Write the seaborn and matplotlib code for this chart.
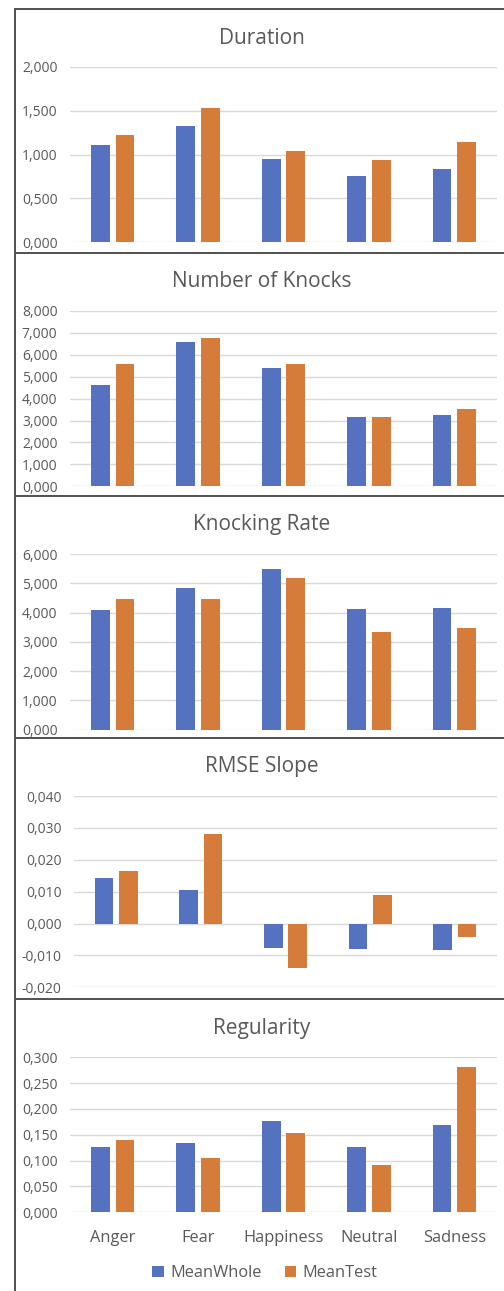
import matplotlib
matplotlib.use("Agg")
import matplotlib.pyplot as plt
from matplotlib.lines import Line2D
from matplotlib.ticker import MultipleLocator, FuncFormatter
import seaborn as sns
import pandas as pd

# ---- data ----
emotions = ["Anger", "Fear", "Happiness", "Neutral", "Sadness"]
series_names = ["MeanWhole", "MeanTest"]

duration_whole = [1.11, 1.33, 0.95, 0.76, 0.84]
duration_test = [1.22, 1.535, 1.045, 0.935, 1.14]

knocks_whole = [4.61, 6.57, 5.38, 3.18, 3.24]
knocks_test = [5.57, 6.75, 5.57, 3.18, 3.54]

rate_whole = [4.08, 4.83, 5.49, 4.13, 4.17]
rate_test = [4.45, 4.45, 5.17, 3.32, 3.46]

rmse_whole = [0.0144, 0.0105, -0.0076, -0.0081, -0.0084]
rmse_test = [0.0166, 0.0281, -0.0141, 0.0088, -0.0041]

regularity_whole = [0.126, 0.134, 0.177, 0.126, 0.169]
regularity_test = [0.139, 0.1045, 0.153, 0.0916, 0.281]

titles = ["Duration", "Number of Knocks", "Knocking Rate", "RMSE Slope", "Regularity"]

# ---- style ----
sns.set_style("white")
plt.rcParams["font.family"] = ["Open Sans", "DejaVu Sans"]

W, H = 504, 1291
fig = plt.figure(figsize=(W / 100, H / 100), dpi=100)
fig.patch.set_facecolor("white")

palette = {"MeanWhole": "#5572C1", "MeanTest": "#D67C3A"}
text_gray = "#595959"
grid_gray = "#D9D9D9"


def fx(px):
    return px / W


def fy(py):
    return 1 - py / H


# panel specs: (left, right, top, bottom in px), ylim, step, title baseline
panels = [
    (duration_whole, duration_test, (70, 497, 67, 242), (0, 2.0), 0.5, 44.3),
    (knocks_whole, knocks_test, (70, 497, 311, 486.3), (0, 8.0), 1.0, 286.7),
    (rate_whole, rate_test, (70, 497, 554, 729.7), (0, 6.0), 1.0, 530.0),
    (rmse_whole, rmse_test, (74, 497, 796, 987.3), (-0.02, 0.04), 0.01, 772.3),
    (regularity_whole, regularity_test, (70, 497, 1057.3, 1212.3), (0, 0.3), 0.05, 1034.3),
]

fmt = FuncFormatter(lambda v, p: f"{v:.3f}".replace(".", ","))

handles, labels = None, None
for i, (whole, test, (l, r, t, b), ylim, step, tb) in enumerate(panels):
    ax = fig.add_axes([fx(l), fy(b), fx(r) - fx(l), fy(t) - fy(b)])
    df = pd.DataFrame({
        "Emotion": emotions * 2,
        "Series": [series_names[0]] * len(emotions) + [series_names[1]] * len(emotions),
        "Value": list(whole) + list(test),
    })
    last = i == len(panels) - 1
    sns.barplot(data=df, x="Emotion", y="Value", hue="Series", order=emotions,
                hue_order=series_names, palette=palette, width=0.58, gap=0.24,
                saturation=1, ax=ax, legend=last, edgecolor="none", linewidth=0)
    ax.set_xlim(-0.5, len(emotions) - 0.5)
    ax.set_ylim(*ylim)
    ax.yaxis.set_major_locator(MultipleLocator(step))
    ax.yaxis.set_major_formatter(fmt)
    ax.set_axisbelow(True)
    ax.yaxis.grid(True, color=grid_gray, linewidth=1.0)
    ax.xaxis.grid(False)
    for s in ax.spines.values():
        s.set_visible(False)
    ax.set_xlabel("")
    ax.set_ylabel("")
    ax.tick_params(axis="y", length=0, pad=9.0, labelsize=10, labelcolor=text_gray)
    if last:
        ax.tick_params(axis="x", length=0, pad=12.5, labelsize=11.8, labelcolor=text_gray)
        handles, labels = ax.get_legend_handles_labels()
        ax.get_legend().remove()
    else:
        ax.set_xticklabels([])
        ax.tick_params(axis="x", length=0)
    fig.text(fx(262), fy(tb), titles[i], ha="center", va="baseline",
             fontsize=15, color=text_gray)

fig.legend(handles, labels, loc="center", bbox_to_anchor=(fx(265), fy(1273)),
           ncol=2, frameon=False, fontsize=11.8, labelcolor=text_gray,
           handlelength=0.7, handleheight=0.7, handletextpad=0.4,
           columnspacing=1.4)

# chart borders
line_col = "#505050"
fig.add_artist(Line2D([fx(14.5), fx(14.5)], [fy(9.3), fy(H)], color=line_col, linewidth=1.4))
for yy in [9.3, 253.3, 496.5, 737.5, 999]:
    fig.add_artist(Line2D([fx(14.5), 1], [fy(yy), fy(yy)], color=line_col, linewidth=1.4))

fig.savefig("out.png", dpi=100, facecolor="white")
